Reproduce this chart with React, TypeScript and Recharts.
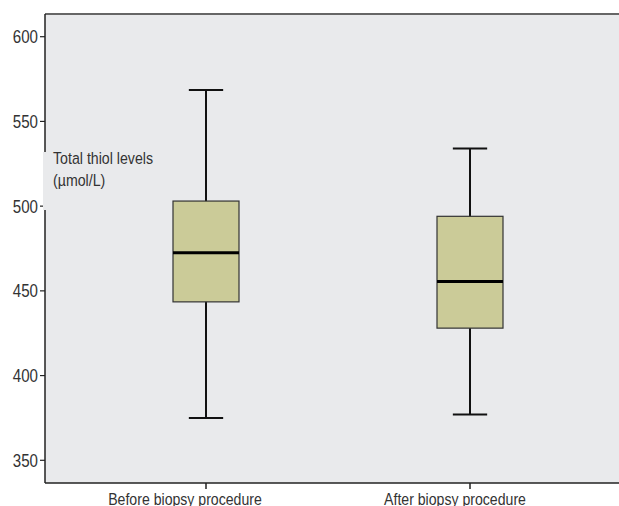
import React from "react";
import { ComposedChart, Bar, XAxis, YAxis, CartesianGrid, ReferenceLine } from "recharts";

// values
const groups = ["Before biopsy procedure", "After biopsy procedure"];
const mins = [375, 377];
const q1s = [443.5, 428];
const medians = [472.5, 455.5];
const q3s = [503, 494];
const maxs = [568.5, 534];
const yTicks = [350, 400, 450, 500, 550, 600];
const yDomain = [336.6, 613.4];

const data = groups.map((g, i) => ({
  group: g,
  min: mins[i],
  q1: q1s[i],
  median: medians[i],
  q3: q3s[i],
  max: maxs[i],
}));

const FONT = "'Liberation Sans', Arial, sans-serif";
const PLOT_BG = "#e9eaec";
const TEXT = "#333";

// condensed look: squeeze a normal sans horizontally
const Narrow = ({ x, y, size, squeeze, anchor, dy, children }: any) => (
  <text
    transform={`translate(${x},${y}) scale(${squeeze},1)`}
    textAnchor={anchor}
    dy={dy}
    fontSize={size}
    fontFamily={FONT}
    fill={TEXT}
  >
    {children}
  </text>
);

// the category labels sit a little left of their tick marks in the original
const XTick = (props: any) => {
  const shift = props.index === 0 ? -21 : -15;
  return (
    <Narrow x={props.x + shift} y={props.y} size={17} squeeze={0.83} anchor="middle" dy="0.71em">
      {props.payload.value}
    </Narrow>
  );
};

const YTick = (props: any) => (
  <Narrow x={props.x} y={props.y} size={18} squeeze={0.84} anchor="end" dy="0.36em">
    {props.payload.value}
  </Narrow>
);

const BoxShape = (props: any) => {
  const { x, y, width, height, payload } = props;
  const { min, q1, median, q3, max } = payload;
  const k = height / (max - min);
  const py = (v: number) => y + (max - v) * k;
  const cx = x + width / 2;
  const cap = width * 0.26;
  return (
    <g>
      <line x1={cx} x2={cx} y1={py(max)} y2={py(min)} stroke="#111" strokeWidth={2} />
      <line x1={cx - cap} x2={cx + cap} y1={py(max)} y2={py(max)} stroke="#111" strokeWidth={2} />
      <line x1={cx - cap} x2={cx + cap} y1={py(min)} y2={py(min)} stroke="#111" strokeWidth={2} />
      <rect x={x} y={py(q3)} width={width} height={py(q1) - py(q3)} fill="#cbcb98" stroke="#333" strokeWidth={1.2} />
      <line x1={x} x2={x + width} y1={py(median)} y2={py(median)} stroke="#000" strokeWidth={3} />
    </g>
  );
};

const AxisLabel = (props: any) => {
  const vb = props.viewBox || {};
  const left = (vb.x ?? 0) + (vb.width ?? 0);
  return (
    <g>
      <rect x={left - 2} y={152} width={118} height={58} fill={PLOT_BG} />
      <Narrow x={left + 8} y={164} size={16.5} squeeze={0.86} anchor="start">
        Total thiol levels
      </Narrow>
      <Narrow x={left + 8} y={186} size={16.5} squeeze={0.86} anchor="start">
        (µmol/L)
      </Narrow>
    </g>
  );
};

export default function App() {
  return (
    <div style={{ width: 619, height: 506, overflow: "hidden" }}>
      <style>{"html,body{margin:0;overflow:hidden}"}</style>
      <ComposedChart
        width={640}
        height={506}
        data={data}
        margin={{ top: 14, right: 0, bottom: 0, left: 0 }}
      >
        <CartesianGrid horizontal={false} vertical={false} fill={PLOT_BG} stroke="none" />
        <XAxis
          dataKey="group"
          type="category"
          padding={{ left: 29, right: 38 }}
          height={23}
          tickSize={6}
          tickMargin={4}
          axisLine={{ stroke: "#222", strokeWidth: 1.5 }}
          tickLine={{ stroke: "#222", strokeWidth: 1.5 }}
          tick={<XTick />}
          interval={0}
        />
        <YAxis
          type="number"
          domain={yDomain}
          ticks={yTicks}
          allowDataOverflow
          width={45}
          tickSize={5}
          tickMargin={2}
          axisLine={{ stroke: "#222", strokeWidth: 1.5 }}
          tickLine={{ stroke: "#222", strokeWidth: 1.2 }}
          tick={<YTick />}
          label={<AxisLabel />}
        />
        <ReferenceLine y={yDomain[1]} stroke="#666" strokeWidth={2} />
        <Bar
          dataKey={(d: any) => [d.min, d.max]}
          barSize={66}
          shape={<BoxShape />}
          isAnimationActive={false}
        />
      </ComposedChart>
    </div>
  );
}
